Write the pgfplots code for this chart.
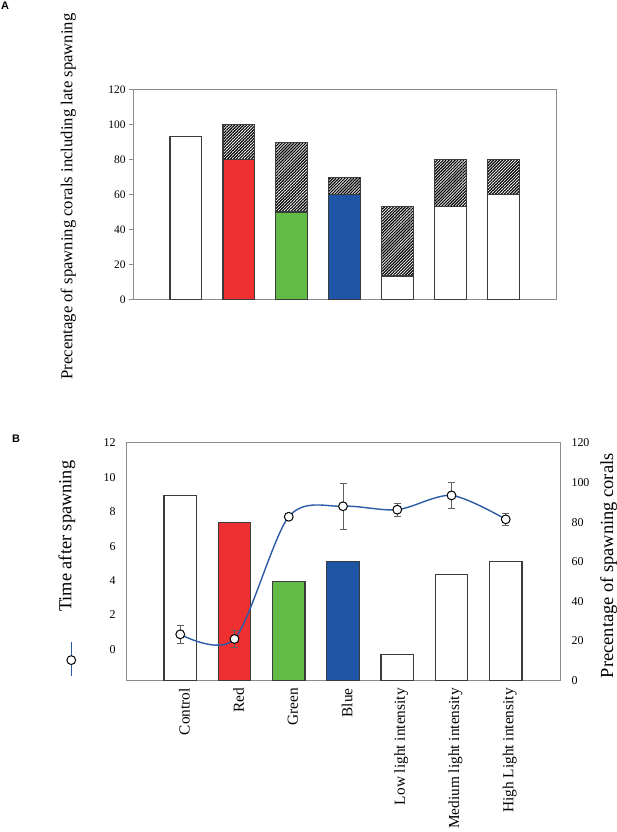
\documentclass[border=0pt]{standalone}
\usepackage{fontspec}
\setmainfont{Liberation Serif}
\newfontfamily\panelfont{Liberation Sans}
\usepackage{pgfplots}
\pgfplotsset{compat=1.18}
\usetikzlibrary{patterns.meta}
\definecolor{cred}{HTML}{EE3030}
\definecolor{cgreen}{HTML}{62BB46}
\definecolor{cblue}{HTML}{1F55A5}
\definecolor{lblue}{HTML}{2B5BA6}
\definecolor{framec}{HTML}{8C8C8C}
\definecolor{edgec}{HTML}{3C3C3C}
\definecolor{errc}{HTML}{606060}
\begin{document}
\begin{tikzpicture}[x=1bp,y=1bp]
\useasboundingbox (0,0) rectangle (617,832);
\node[anchor=north west, inner sep=0pt, font=\panelfont\bfseries\fontsize{11}{12}\selectfont] at (1,830) {A};
\node[anchor=north west, inner sep=0pt, font=\panelfont\bfseries\fontsize{11}{12}\selectfont] at (12,397) {B};

% Panel A
\begin{axis}[at={(133bp,532.7bp)}, anchor=south west, scale only axis,
  width=423.3bp, height=209.3bp,
  xmin=-1, xmax=7, ymin=0, ymax=120, ytick={0,20,...,120},
  yticklabels={0,20,40,60,80,100,120}, xtick=\empty,
  axis line style={framec, line width=1bp}, ytick style={framec, line width=1bp},
  ytick pos=left, major tick length=4bp, tick align=outside,
  yticklabel style={font=\fontsize{11.5}{12}\selectfont},
  ylabel={Precentage of spawning corals including late spawning},
  ylabel style={at={(axis description cs:-0.153,0.491)}, anchor=center, font=\fontsize{16.7}{18}\selectfont},
  ybar, bar width=0.6, bar shift=0pt,
  every axis plot/.append style={line width=1.2bp, draw=edgec}]
\addplot[draw=edgec, fill=white, postaction={pattern={Lines[angle=45,distance=2.1bp,line width=1.15bp]}}]
  coordinates {(1,100) (2,90) (3,70) (4,53.3) (5,80) (6,80)};
\addplot[draw=edgec, fill=white] coordinates {(0,93.3) (4,13.3) (5,53.3) (6,60)};
\addplot[draw=edgec, fill=cred] coordinates {(1,80)};
\addplot[draw=edgec, fill=cgreen] coordinates {(2,50)};
\addplot[draw=edgec, fill=cblue] coordinates {(3,60)};
\end{axis}

% Panel B: bars (right axis)
\begin{axis}[at={(126bp,151.5bp)}, anchor=south west, scale only axis,
  width=434bp, height=237.5bp,
  xmin=-1, xmax=7, ymin=0, ymax=120, ytick={0,20,...,120},
  yticklabels={0,20,40,60,80,100,120},
  yticklabel pos=right, ytick style={draw=none},
  yticklabel style={font=\fontsize{12}{13}\selectfont, xshift=8bp},
  xtick={0,...,6},
  xticklabels={Control,Red,Green,Blue,Low light intensity,Medium light intensity,High Light intensity},
  xtick style={draw=none},
  xticklabel style={rotate=90, anchor=east, font=\fontsize{15.4}{16}\selectfont, yshift=-4bp},
  axis line style={framec, line width=1bp},
  ylabel={Precentage of spawning corals},
  ylabel style={at={(axis description cs:1.112,0.483)}, anchor=center, font=\fontsize{18.5}{20}\selectfont},
  ybar, bar width=0.6, bar shift=0pt,
  every axis plot/.append style={line width=1.2bp, draw=edgec}]
\addplot[draw=edgec, fill=white] coordinates {(0,93.3) (4,13.3) (5,53.5) (6,60)};
\addplot[draw=edgec, fill=cred] coordinates {(1,80)};
\addplot[draw=edgec, fill=cgreen] coordinates {(2,50)};
\addplot[draw=edgec, fill=cblue] coordinates {(3,60)};
\end{axis}

% Panel B: line (left axis)
\begin{axis}[at={(126bp,151.5bp)}, anchor=south west, scale only axis,
  width=434bp, height=237.5bp,
  xmin=-1, xmax=7, ymin=-1.815, ymax=12, ytick={0,2,...,12},
  yticklabels={0,2,4,6,8,10,12},
  hide x axis, axis y line*=left, y axis line style={draw=none}, ytick style={draw=none},
  yticklabel style={font=\fontsize{12}{13}\selectfont, xshift=-7bp},
  ylabel={Time after spawning},
  ylabel style={at={(axis description cs:-0.136,0.607)}, anchor=center, font=\fontsize{18.4}{20}\selectfont},
  legend style={at={(axis description cs:-0.125,0.09)}, anchor=center, draw=none, fill=none,
    inner sep=0pt, nodes={inner sep=0pt}},
  legend image code/.code={
    \draw[lblue, line width=1.4bp] (0bp,-17bp) -- (0bp,17bp);
    \draw[lblue, line width=1.4bp, mark=*, mark size=4.4bp, mark options={fill=white, draw=black, line width=1bp}, only marks] plot coordinates {(0bp,-1bp)};}]
\addplot[lblue, line width=1.4bp, smooth, mark=*, mark size=4.4bp,
  mark options={fill=white, draw=black, line width=1bp},
  error bars/.cd, y dir=both, y explicit,
  error bar style={color=errc, line width=0.9bp},
  error mark options={rotate=90, mark size=3.5bp, color=errc, line width=0.9bp}]
  coordinates {
  (0,0.87) +- (0,0.53)
  (1,0.60) +- (0,0.50)
  (2,7.71) +- (0,0)
  (3,8.32) +- (0,1.35)
  (4,8.12) +- (0,0.38)
  (5,8.95) +- (0,0.75)
  (6,7.56) +- (0,0.33)};
\addlegendentry{}
\end{axis}
\end{tikzpicture}
\end{document}
